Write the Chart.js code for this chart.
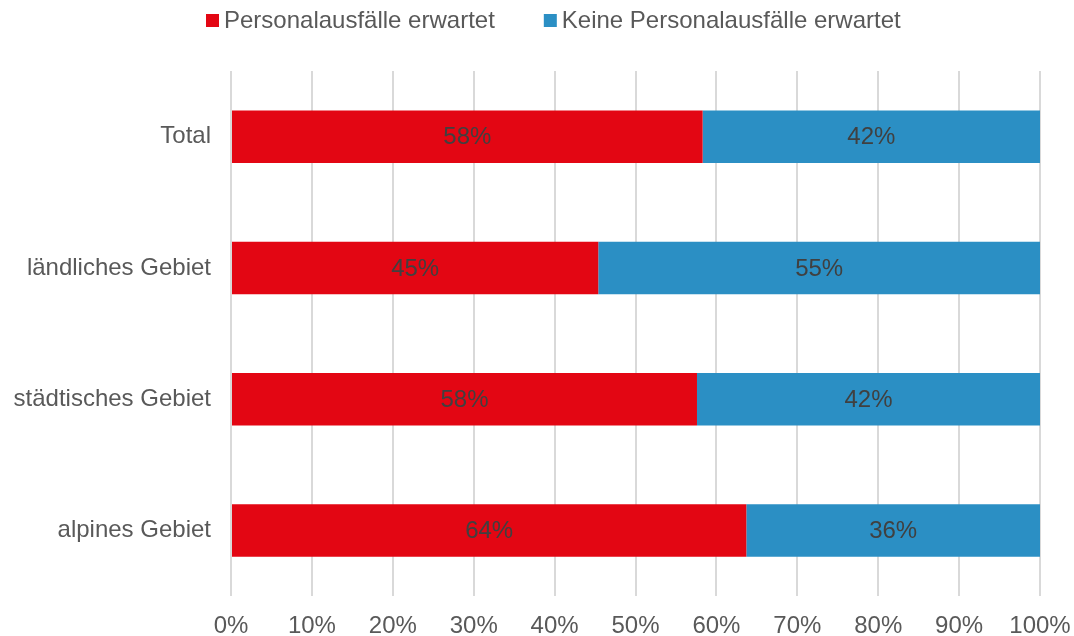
<!DOCTYPE html>
<html>
<head>
<meta charset="utf-8">
<script src="https://cdn.jsdelivr.net/npm/chart.js@4"></script>
<style>
  html, body { margin: 0; padding: 0; background: #fff; }
  #wrap { width: 1074px; height: 636px; }
</style>
</head>
<body>
<div id="wrap"><canvas id="chart" width="1074" height="636"></canvas></div>
<script>
const categories = ['Total', 'ländliches Gebiet', 'städtisches Gebiet', 'alpines Gebiet']
const expected = [58.3, 45.4, 57.6, 63.7]
const notExpected = [41.7, 54.6, 42.4, 36.3]
const xTicks = [0, 10, 20, 30, 40, 50, 60, 70, 80, 90, 100]

const textGrey = '#595959'
const fontFamily = '"Liberation Sans", Arial, sans-serif'
const font = { family: fontFamily, size: 24 }

// percentage in the middle of each bar segment
const barLabels = {
  id: 'barLabels',
  afterDatasetsDraw(chart) {
    const ctx = chart.ctx
    ctx.save()
    ctx.font = '24px ' + fontFamily
    ctx.fillStyle = '#404040'
    ctx.textAlign = 'center'
    ctx.textBaseline = 'middle'
    chart.data.datasets.forEach((ds, i) => {
      chart.getDatasetMeta(i).data.forEach((bar, j) => {
        const mid = (bar.x + bar.base) / 2
        ctx.fillText(Math.round(ds.data[j]) + '%', mid, bar.y + 1)
      })
    })
    ctx.restore()
  }
}

// legend drawn by hand: the built-in one puts too much space between box and text
const topLegend = {
  id: 'topLegend',
  afterDraw(chart) {
    const ctx = chart.ctx
    ctx.save()
    ctx.font = '24px ' + fontFamily
    ctx.textBaseline = 'middle'
    let x = 206
    const y = 20
    chart.data.datasets.forEach(ds => {
      ctx.fillStyle = ds.backgroundColor
      ctx.fillRect(x, y - 6, 13, 13)
      x += 18
      ctx.fillStyle = textGrey
      ctx.fillText(ds.label, x, y + 1)
      x += ctx.measureText(ds.label).width + 49
    })
    ctx.restore()
  }
}

new Chart(document.getElementById('chart'), {
  type: 'bar',
  data: {
    labels: categories,
    datasets: [{
      label: 'Personalausfälle erwartet',
      data: expected,
      backgroundColor: '#E30613',
      barPercentage: 0.8,
      categoryPercentage: 0.5
    }, {
      label: 'Keine Personalausfälle erwartet',
      data: notExpected,
      backgroundColor: '#2B8FC4',
      barPercentage: 0.8,
      categoryPercentage: 0.5
    }]
  },
  options: {
    indexAxis: 'y',
    responsive: false,
    animation: false,
    layout: { padding: { left: 0, right: 34, top: 71, bottom: 0 } },
    plugins: {
      tooltip: { enabled: false },
      legend: { display: false }
    },
    scales: {
      x: {
        stacked: true,
        min: 0,
        max: 100,
        afterBuildTicks(scale) { scale.ticks = xTicks.map(v => ({ value: v })) },
        ticks: {
          font: font,
          color: textGrey,
          padding: 16,
          maxRotation: 0,
          callback: v => v + '%'
        },
        grid: { color: '#d9d9d9', lineWidth: 2, tickLength: 0 },
        border: { display: false },
        afterFit(scale) {
          scale.height = 40
          scale.paddingLeft = 0
          scale.paddingRight = 0
        }
      },
      y: {
        stacked: true,
        ticks: { font: font, color: textGrey, padding: 12 },
        grid: { display: false },
        border: { display: false },
        afterFit(scale) { scale.width = 231 }
      }
    }
  },
  plugins: [barLabels, topLegend]
})
</script>
</body>
</html>
